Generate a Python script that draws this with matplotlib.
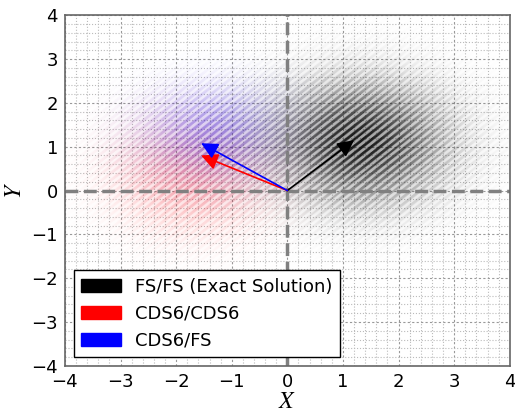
import numpy as np
import matplotlib.pyplot as plt
from matplotlib.patches import Patch
from matplotlib.colors import to_rgb

plt.rcParams['mathtext.fontset'] = 'stix'

# arrow end points (origin at 0,0)
labels = ['FS/FS (Exact Solution)', 'CDS6/CDS6', 'CDS6/FS']
colors = ['black', 'red', 'blue']
u_end = [1.2, -1.55, -1.55]
v_end = [1.15, 0.8, 1.08]

# cloud centres / spreads (x0, y0, sx, sy, peak alpha)
cloud_x0 = [1.3, -1.7, -1.3]
cloud_y0 = [1.1, 0.4, 1.3]
cloud_sx = [1.0, 0.9, 0.85]
cloud_sy = [0.9, 0.85, 0.7]
cloud_amp = [0.9, 0.35, 0.35]

fig = plt.figure(figsize=(5.15, 4.12), dpi=100)
ax = fig.add_axes([0.126, 0.112, 0.864, 0.851])

g = np.linspace(-4, 4, 400)
gx, gy = np.meshgrid(g, g)
# diagonal texture like the reference
tex = 0.7 + 0.3*np.sign(np.sin((gx - gy)*40))
for i in [1, 2, 0]:
    w = np.exp(-0.5*(((gx-cloud_x0[i])/cloud_sx[i])**2 + ((gy-cloud_y0[i])/cloud_sy[i])**2))
    img = np.zeros(gx.shape + (4,))
    img[..., :3] = to_rgb(colors[i])
    img[..., 3] = np.clip(w*cloud_amp[i]*tex, 0, 1)
    ax.imshow(img, extent=(-4, 4, -4, 4), origin='lower', aspect='auto',
              interpolation='bilinear', zorder=1)

ax.axhline(0, color='gray', ls='--', lw=2.5, zorder=2)
ax.axvline(0, color='gray', ls='--', lw=2.5, zorder=2)

for i in range(3):
    ax.annotate('', xy=(u_end[i], v_end[i]), xytext=(0, 0),
                arrowprops=dict(arrowstyle='-|>', color=colors[i], lw=1.2,
                                mutation_scale=25, shrinkA=0, shrinkB=0), zorder=5)

ax.set_xlim(-4, 4)
ax.set_ylim(-4, 4)
ax.set_xticks(np.arange(-4, 5, 1))
ax.set_yticks(np.arange(-4, 5, 1))
ax.set_xticks(np.arange(-4, 4.01, 0.2), minor=True)
ax.set_yticks(np.arange(-4, 4.01, 0.2), minor=True)
ax.grid(which='major', color='#999999', ls='--', lw=0.8, dashes=(2, 2))
ax.grid(which='minor', color='#bbbbbb', ls=':', lw=0.8)
ax.set_axisbelow(True)
ax.tick_params(labelsize=13, which='both', length=0, pad=5)
for s in ax.spines.values():
    s.set_color('#666666')
    s.set_linewidth(1.2)
ax.set_xlabel('$X$', fontsize=17, labelpad=-1)
ax.set_ylabel('$Y$', fontsize=17, labelpad=4)

handles = [Patch(color=c, label=l) for c, l in zip(colors, labels)]
leg = ax.legend(handles=handles, loc='lower left', fontsize=13, fancybox=False,
                framealpha=1, edgecolor='black', handlelength=2.2, borderpad=0.4)
leg.get_frame().set_linewidth(1.0)

fig.savefig('out.png', dpi=100)
